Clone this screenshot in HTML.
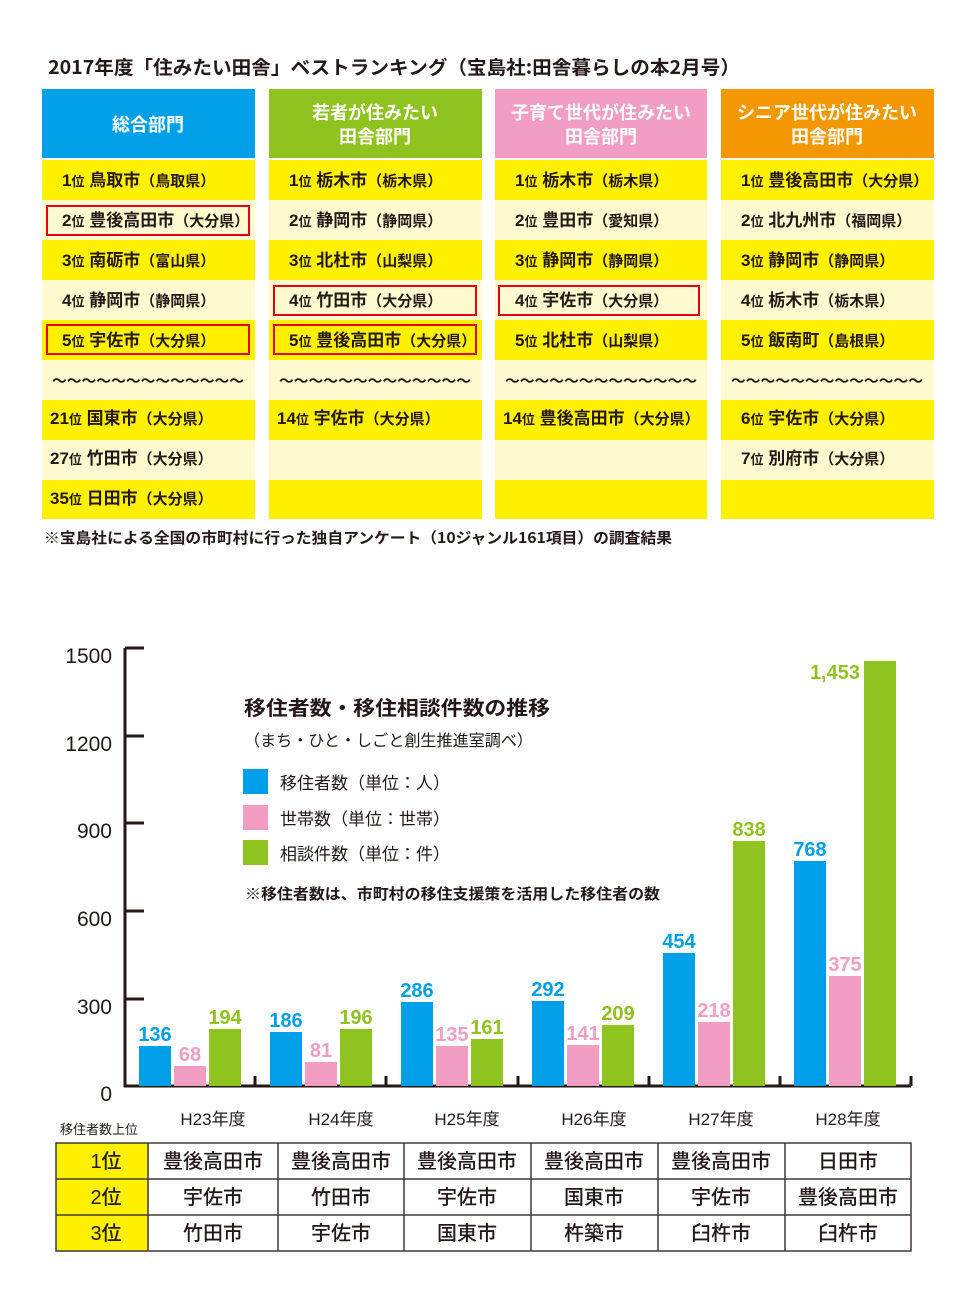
<!DOCTYPE html>
<html><head><meta charset="utf-8">
<style>
html,body{margin:0;padding:0;background:#fff;}
svg{display:block;}
text{font-family:"Liberation Sans","Noto Sans CJK JP",sans-serif;}
.j{font-family:"Noto Sans CJK JP","Liberation Sans",sans-serif;}
</style></head><body>
<svg width="960" height="1300" viewBox="0 0 960 1300" xmlns="http://www.w3.org/2000/svg">
<text x="48" y="74" class="j" font-size="19" font-weight="bold" fill="#231815" textLength="692" lengthAdjust="spacingAndGlyphs">2017年度「住みたい田舎」ベストランキング（宝島社:田舎暮らしの本2月号）</text>

<!-- headers -->
<rect x="42" y="89" width="213" height="69" fill="#00a0e9"/>
<rect x="269" y="89" width="213" height="69" fill="#8fc31f"/>
<rect x="495" y="89" width="212" height="69" fill="#f19ec2"/>
<rect x="721" y="89" width="213" height="69" fill="#f39800"/>
<g class="j" font-size="18" font-weight="bold" fill="#fff" text-anchor="middle">
<text x="148" y="131">総合部門</text>
<text x="375" y="119">若者が住みたい</text><text x="375" y="143">田舎部門</text>
<text x="601" y="119">子育て世代が住みたい</text><text x="601" y="143">田舎部門</text>
<text x="827" y="119">シニア世代が住みたい</text><text x="827" y="143">田舎部門</text>
</g>

<!-- rows -->
<g>
<rect x="42" y="160" width="213" height="359" fill="#fffbd0"/>
<rect x="269" y="160" width="213" height="359" fill="#fffbd0"/>
<rect x="495" y="160" width="212" height="359" fill="#fffbd0"/>
<rect x="721" y="160" width="213" height="359" fill="#fffbd0"/>
</g>
<g fill="#fff100">
<rect x="42" y="160" width="213" height="40"/><rect x="269" y="160" width="213" height="40"/><rect x="495" y="160" width="212" height="40"/><rect x="721" y="160" width="213" height="40"/>
<rect x="42" y="240" width="213" height="40"/><rect x="269" y="240" width="213" height="40"/><rect x="495" y="240" width="212" height="40"/><rect x="721" y="240" width="213" height="40"/>
<rect x="42" y="320" width="213" height="40"/><rect x="269" y="320" width="213" height="40"/><rect x="495" y="320" width="212" height="40"/><rect x="721" y="320" width="213" height="40"/>
<rect x="42" y="400" width="213" height="40"/><rect x="269" y="400" width="213" height="40"/><rect x="495" y="400" width="212" height="40"/><rect x="721" y="400" width="213" height="40"/>
<rect x="42" y="480" width="213" height="39"/><rect x="269" y="480" width="213" height="39"/><rect x="495" y="480" width="212" height="39"/><rect x="721" y="480" width="213" height="39"/>
</g>
<g fill="none" stroke="#e60012" stroke-width="2">
<rect x="47" y="206" width="202" height="29"/>
<rect x="47" y="325" width="202" height="29"/>
<rect x="274" y="286" width="202" height="29"/>
<rect x="274" y="325" width="202" height="29"/>
<rect x="499" y="286" width="200" height="29"/>
</g>

<g class="j" font-weight="bold" fill="#231815" font-size="17">
<!-- col1 -->
<text x="62" y="186"><tspan font-family="Liberation Sans">1</tspan><tspan font-size="13">位</tspan> 鳥取市<tspan font-size="15">（鳥取県）</tspan></text>
<text x="62" y="226"><tspan font-family="Liberation Sans">2</tspan><tspan font-size="13">位</tspan> 豊後高田市<tspan font-size="15">（大分県）</tspan></text>
<text x="62" y="266"><tspan font-family="Liberation Sans">3</tspan><tspan font-size="13">位</tspan> 南砺市<tspan font-size="15">（富山県）</tspan></text>
<text x="62" y="306"><tspan font-family="Liberation Sans">4</tspan><tspan font-size="13">位</tspan> 静岡市<tspan font-size="15">（静岡県）</tspan></text>
<text x="62" y="346"><tspan font-family="Liberation Sans">5</tspan><tspan font-size="13">位</tspan> 宇佐市<tspan font-size="15">（大分県）</tspan></text>
<text x="50" y="424"><tspan font-family="Liberation Sans">21</tspan><tspan font-size="13">位</tspan> 国東市<tspan font-size="15">（大分県）</tspan></text>
<text x="50" y="464"><tspan font-family="Liberation Sans">27</tspan><tspan font-size="13">位</tspan> 竹田市<tspan font-size="15">（大分県）</tspan></text>
<text x="50" y="504"><tspan font-family="Liberation Sans">35</tspan><tspan font-size="13">位</tspan> 日田市<tspan font-size="15">（大分県）</tspan></text>
<!-- col2 -->
<text x="289" y="186"><tspan font-family="Liberation Sans">1</tspan><tspan font-size="13">位</tspan> 栃木市<tspan font-size="15">（栃木県）</tspan></text>
<text x="289" y="226"><tspan font-family="Liberation Sans">2</tspan><tspan font-size="13">位</tspan> 静岡市<tspan font-size="15">（静岡県）</tspan></text>
<text x="289" y="266"><tspan font-family="Liberation Sans">3</tspan><tspan font-size="13">位</tspan> 北杜市<tspan font-size="15">（山梨県）</tspan></text>
<text x="289" y="306"><tspan font-family="Liberation Sans">4</tspan><tspan font-size="13">位</tspan> 竹田市<tspan font-size="15">（大分県）</tspan></text>
<text x="289" y="346"><tspan font-family="Liberation Sans">5</tspan><tspan font-size="13">位</tspan> 豊後高田市<tspan font-size="15">（大分県）</tspan></text>
<text x="277" y="424"><tspan font-family="Liberation Sans">14</tspan><tspan font-size="13">位</tspan> 宇佐市<tspan font-size="15">（大分県）</tspan></text>
<!-- col3 -->
<text x="515" y="186"><tspan font-family="Liberation Sans">1</tspan><tspan font-size="13">位</tspan> 栃木市<tspan font-size="15">（栃木県）</tspan></text>
<text x="515" y="226"><tspan font-family="Liberation Sans">2</tspan><tspan font-size="13">位</tspan> 豊田市<tspan font-size="15">（愛知県）</tspan></text>
<text x="515" y="266"><tspan font-family="Liberation Sans">3</tspan><tspan font-size="13">位</tspan> 静岡市<tspan font-size="15">（静岡県）</tspan></text>
<text x="515" y="306"><tspan font-family="Liberation Sans">4</tspan><tspan font-size="13">位</tspan> 宇佐市<tspan font-size="15">（大分県）</tspan></text>
<text x="515" y="346"><tspan font-family="Liberation Sans">5</tspan><tspan font-size="13">位</tspan> 北杜市<tspan font-size="15">（山梨県）</tspan></text>
<text x="503" y="424"><tspan font-family="Liberation Sans">14</tspan><tspan font-size="13">位</tspan> 豊後高田市<tspan font-size="15">（大分県）</tspan></text>
<!-- col4 -->
<text x="741" y="186"><tspan font-family="Liberation Sans">1</tspan><tspan font-size="13">位</tspan> 豊後高田市<tspan font-size="15">（大分県）</tspan></text>
<text x="741" y="226"><tspan font-family="Liberation Sans">2</tspan><tspan font-size="13">位</tspan> 北九州市<tspan font-size="15">（福岡県）</tspan></text>
<text x="741" y="266"><tspan font-family="Liberation Sans">3</tspan><tspan font-size="13">位</tspan> 静岡市<tspan font-size="15">（静岡県）</tspan></text>
<text x="741" y="306"><tspan font-family="Liberation Sans">4</tspan><tspan font-size="13">位</tspan> 栃木市<tspan font-size="15">（栃木県）</tspan></text>
<text x="741" y="346"><tspan font-family="Liberation Sans">5</tspan><tspan font-size="13">位</tspan> 飯南町<tspan font-size="15">（島根県）</tspan></text>
<text x="741" y="424"><tspan font-family="Liberation Sans">6</tspan><tspan font-size="13">位</tspan> 宇佐市<tspan font-size="15">（大分県）</tspan></text>
<text x="741" y="464"><tspan font-family="Liberation Sans">7</tspan><tspan font-size="13">位</tspan> 別府市<tspan font-size="15">（大分県）</tspan></text>
</g>
<g class="j" font-size="14" fill="#231815" text-anchor="middle" font-weight="bold">
<text x="148" y="386" textLength="192" lengthAdjust="spacingAndGlyphs">～～～～～～～～～～～～～</text>
<text x="375" y="386" textLength="192" lengthAdjust="spacingAndGlyphs">～～～～～～～～～～～～～</text>
<text x="601" y="386" textLength="192" lengthAdjust="spacingAndGlyphs">～～～～～～～～～～～～～</text>
<text x="827" y="386" textLength="192" lengthAdjust="spacingAndGlyphs">～～～～～～～～～～～～～</text>
</g>
<text x="44" y="543" class="j" font-size="15" font-weight="bold" fill="#231815" textLength="628" lengthAdjust="spacingAndGlyphs">※宝島社による全国の市町村に行った独自アンケート（10ジャンル161項目）の調査結果</text>

<!-- chart axes -->
<g stroke="#231815" stroke-width="3" fill="none">
<path d="M125 648 V1086 H911"/>
<path d="M125 648 H144 M125 736 H144 M125 823 H144 M125 911 H144 M125 999 H144"/>
<path d="M255 1076 V1086 M386 1076 V1086 M518 1076 V1086 M649 1076 V1086 M780 1076 V1086 M911 1076 V1086"/>
</g>
<g font-size="21" fill="#231815" text-anchor="end">
<text x="112" y="663">1500</text>
<text x="112" y="751">1200</text>
<text x="112" y="838">900</text>
<text x="112" y="926">600</text>
<text x="112" y="1014">300</text>
<text x="112" y="1101">0</text>
</g>

<g>
<rect x="139" y="1046" width="32" height="40" fill="#00a0e9"/><rect x="174" y="1066" width="32" height="20" fill="#f19ec2"/><rect x="209" y="1029" width="32" height="57" fill="#8fc31f"/>
<rect x="270" y="1032" width="32" height="54" fill="#00a0e9"/><rect x="305" y="1062" width="32" height="24" fill="#f19ec2"/><rect x="340" y="1029" width="32" height="57" fill="#8fc31f"/>
<rect x="401" y="1002" width="32" height="84" fill="#00a0e9"/><rect x="436" y="1046" width="32" height="40" fill="#f19ec2"/><rect x="471" y="1039" width="32" height="47" fill="#8fc31f"/>
<rect x="532" y="1001" width="32" height="85" fill="#00a0e9"/><rect x="567" y="1045" width="32" height="41" fill="#f19ec2"/><rect x="602" y="1025" width="32" height="61" fill="#8fc31f"/>
<rect x="663" y="953" width="32" height="133" fill="#00a0e9"/><rect x="698" y="1022" width="32" height="64" fill="#f19ec2"/><rect x="733" y="841" width="32" height="245" fill="#8fc31f"/>
<rect x="794" y="861" width="32" height="225" fill="#00a0e9"/><rect x="829" y="976" width="32" height="110" fill="#f19ec2"/><rect x="864" y="661" width="32" height="425" fill="#8fc31f"/>
</g>
<g font-size="20" font-weight="bold" text-anchor="middle">
<text x="155" y="1041" fill="#00a0e9">136</text><text x="190" y="1061" fill="#f19ec2">68</text><text x="225" y="1024" fill="#8fc31f">194</text>
<text x="286" y="1027" fill="#00a0e9">186</text><text x="321" y="1057" fill="#f19ec2">81</text><text x="356" y="1024" fill="#8fc31f">196</text>
<text x="417" y="997" fill="#00a0e9">286</text><text x="452" y="1041" fill="#f19ec2">135</text><text x="487" y="1034" fill="#8fc31f">161</text>
<text x="548" y="996" fill="#00a0e9">292</text><text x="583" y="1040" fill="#f19ec2">141</text><text x="618" y="1020" fill="#8fc31f">209</text>
<text x="679" y="948" fill="#00a0e9">454</text><text x="714" y="1017" fill="#f19ec2">218</text><text x="749" y="836" fill="#8fc31f">838</text>
<text x="810" y="856" fill="#00a0e9">768</text><text x="845" y="971" fill="#f19ec2">375</text><text x="860" y="679" fill="#8fc31f" text-anchor="end">1,453</text>
</g>

<!-- legend -->
<g class="j" fill="#231815">
<text x="244" y="715" font-size="20" font-weight="bold" textLength="306" lengthAdjust="spacingAndGlyphs">移住者数・移住相談件数の推移</text>
<text x="244" y="746" font-size="16" textLength="289" lengthAdjust="spacingAndGlyphs">（まち・ひと・しごと創生推進室調べ）</text>
<rect x="243" y="769" width="25" height="25" fill="#00a0e9"/>
<rect x="243" y="805" width="25" height="25" fill="#f19ec2"/>
<rect x="243" y="840" width="25" height="25" fill="#8fc31f"/>
<text x="280" y="789" font-size="17">移住者数（単位：人）</text>
<text x="280" y="825" font-size="17">世帯数（単位：世帯）</text>
<text x="280" y="860" font-size="17">相談件数（単位：件）</text>
<text x="245" y="899" font-size="15" font-weight="bold" textLength="415" lengthAdjust="spacingAndGlyphs">※移住者数は、市町村の移住支援策を活用した移住者の数</text>
</g>

<!-- bottom table -->
<g font-size="17" fill="#231815" text-anchor="middle">
<text x="213" y="1125">H23年度</text><text x="341" y="1125">H24年度</text><text x="467" y="1125">H25年度</text>
<text x="594" y="1125">H26年度</text><text x="721" y="1125">H27年度</text><text x="848" y="1125">H28年度</text>
</g>
<text x="60" y="1134" class="j" font-size="13" fill="#231815">移住者数上位</text>
<rect x="56" y="1143" width="92" height="108" fill="#fff100"/>
<g stroke="#3e3a39" stroke-width="1.5" fill="none">
<rect x="56" y="1143" width="855" height="108"/>
<path d="M56 1179 H911 M56 1215 H911 M148 1143 V1251 M278 1143 V1251 M404 1143 V1251 M531 1143 V1251 M658 1143 V1251 M785 1143 V1251"/>
</g>
<g class="j" font-size="20" fill="#231815" text-anchor="middle" font-weight="500">
<text x="106" y="1168">1位</text><text x="106" y="1204">2位</text><text x="106" y="1240">3位</text>
<text x="213" y="1168">豊後高田市</text><text x="341" y="1168">豊後高田市</text><text x="467" y="1168">豊後高田市</text><text x="594" y="1168">豊後高田市</text><text x="721" y="1168">豊後高田市</text><text x="848" y="1168">日田市</text>
<text x="213" y="1204">宇佐市</text><text x="341" y="1204">竹田市</text><text x="467" y="1204">宇佐市</text><text x="594" y="1204">国東市</text><text x="721" y="1204">宇佐市</text><text x="848" y="1204">豊後高田市</text>
<text x="213" y="1240">竹田市</text><text x="341" y="1240">宇佐市</text><text x="467" y="1240">国東市</text><text x="594" y="1240">杵築市</text><text x="721" y="1240">臼杵市</text><text x="848" y="1240">臼杵市</text>
</g>
</svg>
</body></html>
